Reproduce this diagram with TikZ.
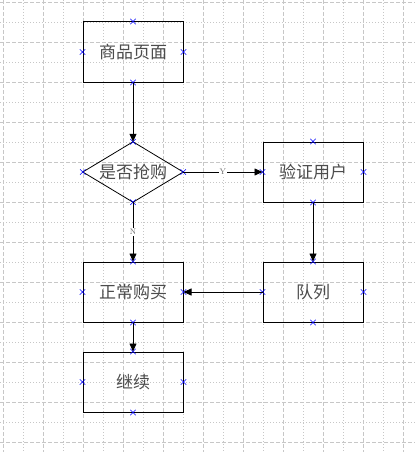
\documentclass[tikz,border=0pt]{standalone}
\usepackage{fontspec}
\newfontfamily\cjk{Noto Sans CJK SC}
\usetikzlibrary{shapes.misc,arrows.meta}
\begin{document}
\begin{tikzpicture}[x=1pt,y=-1pt,
  box/.style={draw=black, line width=1pt, minimum width=100pt, minimum height=60pt, inner sep=0pt,
    font=\cjk\fontsize{17}{17}\selectfont, text=black!70},
  diatext/.style={minimum width=100pt, minimum height=60pt, inner sep=0pt,
    font=\cjk\fontsize{17}{17}\selectfont, text=black!70},
  majorgrid/.style={draw=black!22, line width=0.8pt, dash pattern=on 4pt off 2pt},
  minorgrid/.style={draw=black!22, line width=0.8pt, dash pattern=on 1pt off 2pt},
  xm/.style={cross out, draw=blue, line width=0.5pt, minimum size=5pt, inner sep=0pt},
  arr/.style={draw=black, line width=0.8pt, -{Triangle[length=8pt,width=7pt]}},
  lab/.style={fill=white, inner sep=1pt, font=\fontsize{8}{8}\selectfont, text=black!60}]
\useasboundingbox (0,0) rectangle (415,452);
\fill[white] (0,0) rectangle (415,452);
% grid
\foreach \x in {3,43,...,403} \draw[majorgrid] (\x,0) -- (\x,452);
\foreach \x in {23,63,...,383} \draw[minorgrid] (\x,0) -- (\x,452);
\foreach \y in {2,42,...,442} \draw[majorgrid] (0,\y) -- (415,\y);
\foreach \y in {22,62,...,422} \draw[minorgrid] (0,\y) -- (415,\y);
% nodes
\node[box] (page) at (133,52) {商品页面};
\node[diatext] (rush) at (133,172) {是否抢购};
\draw[black, line width=0.8pt] (rush.north) -- (rush.east) -- (rush.south) -- (rush.west) -- cycle;
\node[box] (verify) at (313,172) {验证用户};
\node[box] (normal) at (133,292) {正常购买};
\node[box] (queue) at (313,292) {队列};
\node[box] (cont) at (133,382) {继续};
% connection markers
\foreach \n in {page,rush,verify,normal,queue,cont}
  \foreach \a in {north,south,east,west}
    \node[xm] at (\n.\a) {};
% connectors
\draw[arr] (page.south) -- (rush.north);
\draw[arr] (rush.east) -- node[lab] {Y} (verify.west);
\draw[arr] (rush.south) -- node[lab] {N} (normal.north);
\draw[arr] (verify.south) -- (queue.north);
\draw[arr] (queue.west) -- (normal.east);
\draw[arr] (normal.south) -- (cont.north);
\end{tikzpicture}
\end{document}
